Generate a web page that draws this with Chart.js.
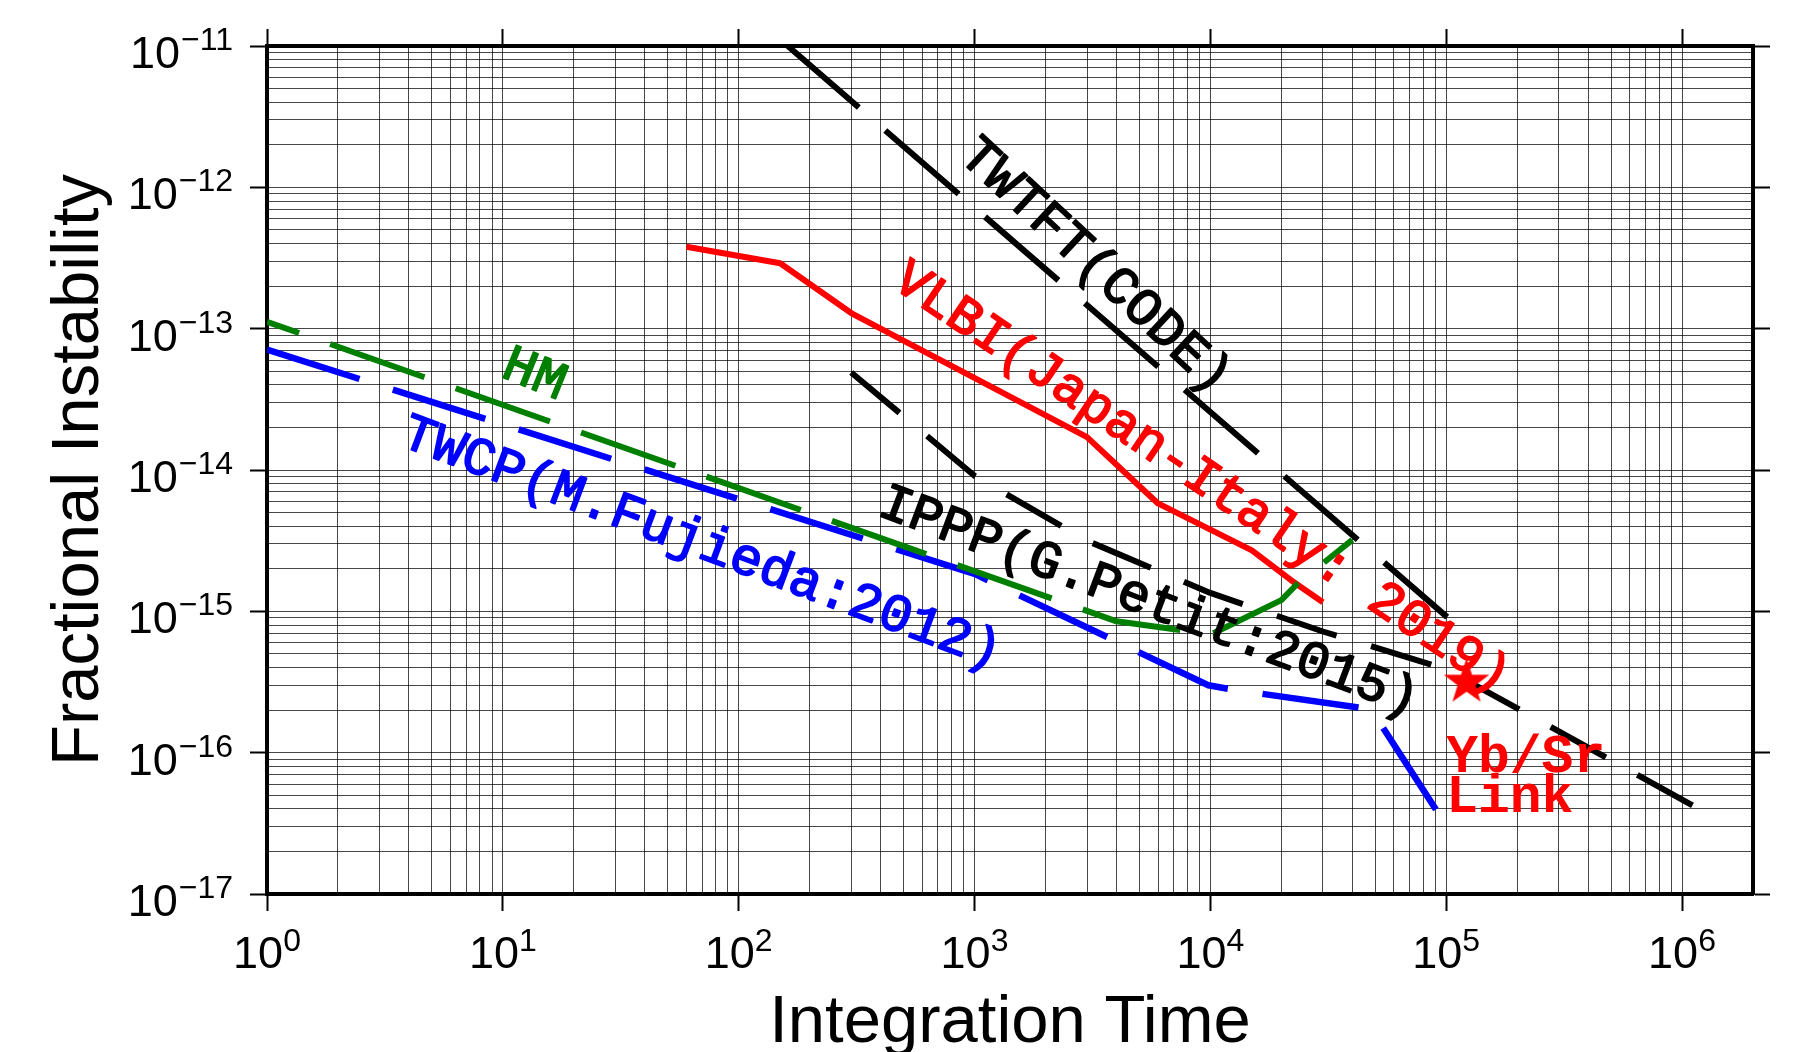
<!DOCTYPE html>
<html>
<head>
<meta charset="utf-8">
<script src="https://cdn.jsdelivr.net/npm/chart.js@4.4.1/dist/chart.umd.min.js"></script>
<style>
  html, body { margin: 0; padding: 0; background: #fff; }
  canvas { display: block; }
</style>
</head>
<body>
<canvas id="stabilityChart" width="1800" height="1052"></canvas>
<script>
// axis decades and grid mantissas
const xDecades = [0, 1, 2, 3, 4, 5, 6];
const yDecades = [-17, -16, -15, -14, -13, -12, -11];
const mantissas = [1, 2, 3, 4, 5, 6, 7, 8, 9];
const xRange = [1, 2e6];
const yRange = [1e-17, 1e-11];

// TWTFT (CODE)
const twtftTau = [100, 101000];
const twtftDev = [2.0e-11, 9.1e-16];

// IPPP (G.Petit:2015)
const ipppTau = [300, 1000, 3000, 10000, 30000, 100000, 1150000];
const ipppDev = [4.9e-14, 9.1e-15, 3.16e-15, 1.35e-15, 7.2e-16, 3.9e-16, 4.1e-17];

// VLBI (Japan-Italy: 2019)
const vlbiTau = [60, 150, 300, 3000, 6000, 15000, 22000, 30000];
const vlbiDev = [3.8e-13, 2.9e-13, 1.29e-13, 1.71e-14, 5.8e-15, 2.7e-15, 1.66e-15, 1.16e-15];

// HM
const hmTau = [1, 4000, 7300, 10300, 20000, 23500, 40000];
const hmDev = [1.12e-13, 8.5e-16, 7.4e-16, 7.0e-16, 1.2e-15, 1.58e-15, 3.2e-15];

// TWCP (M.Fujieda:2012)
const twcpTau = [1, 1000, 9800, 12300, 48000, 92000];
const twcpDev = [7.1e-14, 1.84e-15, 3.0e-16, 2.8e-16, 2.03e-16, 3.8e-17];

// Yb/Sr link result
const linkTau = [122000];
const linkDev = [3.15e-16];

// curve labels, anchored in data units
const noteText = ['TWTFT(CODE)', 'VLBI(Japan-Italy: 2019)', 'IPPP(G.Petit:2015)', 'TWCP(M.Fujieda:2012)', 'HM'];
const noteTau = [3290, 9270, 5520, 70, 13.7];
const noteDev = [2.82e-13, 8.9e-15, 1.2e-15, 3.1e-15, 4.85e-14];
const linkText = ['Yb/Sr', 'Link'];
const linkTextTau = [1e5, 1e5];
const linkTextDev = [7.3e-17, 3.8e-17];

const noteStyle = [
    { color: '#000000', angle: 42.8 },
    { color: '#ff0000', angle: 34 },
    { color: '#000000', angle: 20.6 },
    { color: '#0000ff', angle: 20.6 },
    { color: '#007f00', angle: 22 }
];

const pts = (xs, ys) => xs.map((v, i) => ({ x: v, y: ys[i] }));

const buildTicks = (decades, [min, max], majorOnly) => {
    const out = [];
    decades.forEach(d => {
        (majorOnly ? [1] : mantissas).forEach(m => {
            const v = m * Math.pow(10, d);
            if (v >= min * 0.999 && v <= max * 1.001) out.push({ value: v, major: m === 1 });
        });
    });
    return out;
};

// filled five point star marker
const starMarker = (() => {
    const c = document.createElement('canvas');
    c.width = 52; c.height = 52;
    const g = c.getContext('2d');
    g.fillStyle = '#ff0000';
    g.beginPath();
    for (let i = 0; i < 10; i++) {
        const r = i % 2 === 0 ? 24 : 9.4;
        const a = -Math.PI / 2 + i * Math.PI / 5;
        g.lineTo(26 + r * Math.cos(a), 26 + r * Math.sin(a));
    }
    g.closePath();
    g.fill();
    return c;
})();

const gridColor = 'rgba(0,0,0,0.72)';
const tickColor = c => (c.tick && c.tick.major ? '#000' : 'rgba(0,0,0,0)');

const mainGrid = { color: gridColor, lineWidth: 1, tickLength: 17, tickWidth: 2, tickColor };
const edgeGrid = { drawOnChartArea: false, tickLength: 17, tickWidth: 2, tickColor: '#000' };
const frame = { display: true, color: '#000', width: 4 };

// tick labels, axis titles and curve names
const textPlugin = {
    id: 'paperText',
    afterDatasetsDraw(chart) {
        const { ctx, chartArea: area, scales: { x, y } } = chart;
        const sans = '"Liberation Sans", Arial, sans-serif';
        const mono = '"Liberation Mono", "DejaVu Sans Mono", monospace';
        ctx.save();
        ctx.fillStyle = '#000';
        ctx.textBaseline = 'alphabetic';

        const expText = v => {
            const e = Math.round(Math.log10(v));
            return e < 0 ? '\u2212' + Math.abs(e) : String(e);
        };

        x.ticks.filter(t => t.major).forEach(t => {
            const px = x.getPixelForValue(t.value);
            const ex = expText(t.value);
            ctx.font = `45px ${sans}`;
            const w10 = ctx.measureText('10').width;
            ctx.font = `32px ${sans}`;
            const wEx = ctx.measureText(ex).width;
            const start = px - (w10 + wEx) / 2;
            ctx.textAlign = 'left';
            ctx.font = `45px ${sans}`;
            ctx.fillText('10', start, area.bottom + 74);
            ctx.font = `32px ${sans}`;
            ctx.fillText(ex, start + w10, area.bottom + 57);
        });

        y.ticks.filter(t => t.major).forEach(t => {
            const py = y.getPixelForValue(t.value);
            const ex = expText(t.value);
            const right = area.left - 34;
            ctx.textAlign = 'right';
            ctx.font = `32px ${sans}`;
            const wEx = ctx.measureText(ex).width;
            ctx.fillText(ex, right, py + 4);
            ctx.font = `45px ${sans}`;
            ctx.fillText('10', right - wEx - 1, py + 22);
        });

        // axis titles
        ctx.font = `67px ${sans}`;
        ctx.textAlign = 'center';
        ctx.fillText('Integration Time', (area.left + area.right) / 2, 1042);
        ctx.save();
        ctx.translate(98, (area.top + area.bottom) / 2);
        ctx.rotate(-Math.PI / 2);
        ctx.fillText('Fractional Instability', 0, 0);
        ctx.restore();

        // rotated curve names, regular face thickened a little
        noteText.forEach((txt, i) => {
            const st = noteStyle[i];
            ctx.save();
            ctx.translate(x.getPixelForValue(noteTau[i]), y.getPixelForValue(noteDev[i]));
            ctx.rotate(st.angle * Math.PI / 180);
            ctx.font = `53px ${mono}`;
            ctx.fillStyle = st.color;
            ctx.strokeStyle = st.color;
            ctx.lineWidth = 1.8;
            ctx.lineJoin = 'round';
            ctx.textAlign = 'center';
            ctx.fillText(txt, 0, 16);
            ctx.strokeText(txt, 0, 16);
            ctx.restore();
        });

        ctx.font = `bold 53px ${mono}`;
        ctx.fillStyle = '#ff0000';
        ctx.textAlign = 'left';
        linkText.forEach((txt, i) => {
            ctx.fillText(txt, x.getPixelForValue(linkTextTau[i]), y.getPixelForValue(linkTextDev[i]));
        });
        ctx.restore();
    }
};

const lineSet = (data, color, width, dash, offset) => ({
    data,
    showLine: true,
    borderColor: color,
    borderWidth: width,
    borderDash: dash,
    borderDashOffset: offset,
    borderCapStyle: 'butt',
    borderJoinStyle: 'round',
    tension: 0,
    pointRadius: 0,
    pointHoverRadius: 0
});

new Chart(document.getElementById('stabilityChart'), {
    type: 'scatter',
    data: {
        datasets: [
            {
                data: pts(linkTau, linkDev),
                pointStyle: starMarker,
                pointRadius: 24,
                pointHoverRadius: 24,
                showLine: false
            },
            lineSet(pts(hmTau, hmDev), '#007f00', 6, [100, 33], 66),
            lineSet(pts(vlbiTau, vlbiDev), '#ff0000', 6, [], 0),
            lineSet(pts(twtftTau, twtftDev), '#000000', 6, [97, 35], 70),
            lineSet(pts(ipppTau, ipppDev), '#000000', 6, [63, 36], 0),
            lineSet(pts(twcpTau, twcpDev), '#0000ff', 6.5, [97, 35], 0)
        ]
    },
    options: {
        responsive: false,
        devicePixelRatio: 1,
        animation: false,
        events: [],
        layout: { padding: 0 },
        plugins: { legend: { display: false }, tooltip: { enabled: false } },
        scales: {
            x: {
                type: 'logarithmic', position: 'bottom', min: xRange[0], max: xRange[1],
                afterBuildTicks: s => { s.ticks = buildTicks(xDecades, xRange, false); },
                afterFit: s => { s.height = 158; },
                ticks: { display: false },
                grid: mainGrid,
                border: frame
            },
            x2: {
                type: 'logarithmic', position: 'top', min: xRange[0], max: xRange[1],
                afterBuildTicks: s => { s.ticks = buildTicks(xDecades, xRange, true); },
                afterFit: s => { s.height = 46; },
                ticks: { display: false },
                grid: edgeGrid,
                border: frame
            },
            y: {
                type: 'logarithmic', position: 'left', min: yRange[0], max: yRange[1],
                afterBuildTicks: s => { s.ticks = buildTicks(yDecades, yRange, false); },
                afterFit: s => { s.width = 267; },
                ticks: { display: false },
                grid: mainGrid,
                border: frame
            },
            y2: {
                type: 'logarithmic', position: 'right', min: yRange[0], max: yRange[1],
                afterBuildTicks: s => { s.ticks = buildTicks(yDecades, yRange, true); },
                afterFit: s => { s.width = 47; },
                ticks: { display: false },
                grid: edgeGrid,
                border: frame
            }
        }
    },
    plugins: [textPlugin]
});
</script>
</body>
</html>
